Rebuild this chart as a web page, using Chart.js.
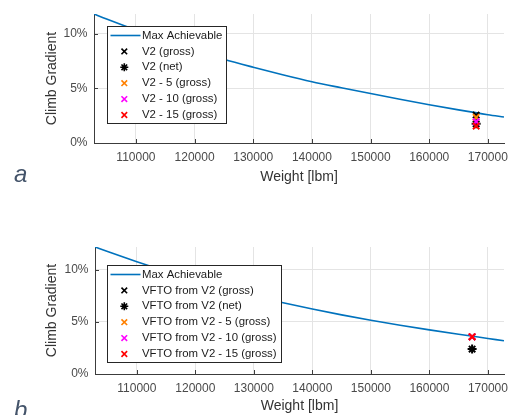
<!DOCTYPE html>
<html><head><meta charset="utf-8">
<script src="https://cdn.jsdelivr.net/npm/chart.js@4/dist/chart.umd.min.js"></script>
<style>
html,body{margin:0;padding:0;background:#fff;width:510px;height:415px;overflow:hidden;position:relative;}
.wrap{position:absolute;left:0;width:510px;}
#w1{top:0;height:200px}
#w2{top:200px;height:215px}
.lab{position:absolute;left:14px;font:italic 24px "Liberation Sans",sans-serif;line-height:24px;color:#44546a}
</style></head><body>
<div class="wrap" id="w1"><canvas id="c1" width="510" height="200"></canvas></div>
<div class="wrap" id="w2"><canvas id="c2" width="510" height="215"></canvas></div>
<div class="lab" style="top:162px">a</div>
<div class="lab" style="top:398px">b</div>
<script>
// ---- data ----
const weights = [102850,105000,110000,115000,120000,125000,130000,135000,140000,145000,150000,155000,160000,165000,170000,172750];
const maxAchievableA = [11.80,11.34,10.33,9.38,8.49,7.66,6.93,6.24,5.60,5.05,4.52,4.00,3.50,3.03,2.59,2.38];
const maxAchievableB = [12.18,11.74,10.77,9.86,9.01,8.23,7.50,6.84,6.23,5.67,5.16,4.68,4.23,3.81,3.41,3.19];
const markerWeightA = 168000;
const markerWeightB = 167300;
const labelsA = ['V2 (gross)','V2 (net)','V2 - 5 (gross)','V2 - 10 (gross)','V2 - 15 (gross)'];
const labelsB = ['VFTO from V2 (gross)','VFTO from V2 (net)','VFTO from V2 - 5 (gross)','VFTO from V2 - 10 (gross)','VFTO from V2 - 15 (gross)'];
const markerValuesA = [2.55,1.75,2.35,1.95,1.55];
const markerValuesB = [3.57,2.39,3.57,3.57,3.57];
const xTicks = [110000,120000,130000,140000,150000,160000,170000];
const yTicks = [0,5,10];

const markerStyles = [
  {color:'#000000', style:'crossRot'},
  {color:'#000000', style:'star'},
  {color:'#FF8000', style:'crossRot'},
  {color:'#FF00FF', style:'crossRot'},
  {color:'#FF0000', style:'crossRot'}
];
const FONT = '"Liberation Sans", Arial, sans-serif';

function drawMark(ctx, style, x, y, r){
  const d = r*Math.SQRT1_2;
  ctx.beginPath();
  ctx.moveTo(x-d,y-d); ctx.lineTo(x+d,y+d);
  ctx.moveTo(x-d,y+d); ctx.lineTo(x+d,y-d);
  if(style==='star'){
    ctx.moveTo(x-r,y); ctx.lineTo(x+r,y);
    ctx.moveTo(x,y-r); ctx.lineTo(x,y+r);
  }
  ctx.stroke();
}

const legendBox = {
  id:'legendBox',
  afterDatasetsDraw(chart, args, opts){
    const ctx = chart.ctx, ca = chart.chartArea;
    const x0 = Math.round(ca.left + opts.dx), y0 = Math.round(ca.top + opts.dy);
    const items = chart.data.datasets;
    ctx.save();
    ctx.font = '11.4px ' + FONT;
    let maxW = 0;
    items.forEach(d => { maxW = Math.max(maxW, ctx.measureText(d.label).width); });
    const w = Math.round(35 + maxW + 4), h = Math.round(9.5 + 15.9*(items.length-1) + 8);
    ctx.fillStyle = '#fff';
    ctx.fillRect(x0, y0, w, h);
    ctx.strokeStyle = '#262626'; ctx.lineWidth = 1;
    ctx.strokeRect(x0+0.5, y0+0.5, w, h);
    items.forEach((d,i) => {
      const y = y0 + 9.5 + i*15.9;
      if(d.showLine){
        ctx.strokeStyle = d.borderColor; ctx.lineWidth = d.borderWidth;
        ctx.beginPath(); ctx.moveTo(x0+3.5, y); ctx.lineTo(x0+33.5, y); ctx.stroke();
      } else {
        ctx.strokeStyle = d.borderColor; ctx.lineWidth = 1.6;
        drawMark(ctx, d.pointStyle, x0+17.3, y, 4);
      }
      ctx.fillStyle = '#1a1a1a'; ctx.textBaseline = 'middle'; ctx.textAlign = 'left';
      ctx.fillText(d.label, x0+35, y);
    });
    ctx.restore();
  }
};

const markerPlugin = {
  id:'markerPlugin',
  afterDatasetsDraw(chart){
    const ctx = chart.ctx, xs = chart.scales.x, ys = chart.scales.y;
    chart.data.datasets.forEach((d,i) => {
      if(d.showLine) return;
      ctx.save();
      ctx.strokeStyle = d.borderColor; ctx.lineWidth = 2;
      d.data.forEach(p => drawMark(ctx, d.pointStyle, xs.getPixelForValue(p.x), ys.getPixelForValue(p.y), 4.5));
      ctx.restore();
    });
  }
};

const axisTicks = {
  id:'axisTicks',
  afterDraw(chart){
    const ctx = chart.ctx, xs = chart.scales.x, ys = chart.scales.y, ca = chart.chartArea;
    ctx.save();
    ctx.strokeStyle = '#3c3c3c'; ctx.lineWidth = 1;
    ctx.beginPath();
    xs.ticks.forEach(t => { const px = Math.round(xs.getPixelForValue(t.value))+0.5; ctx.moveTo(px, ca.bottom); ctx.lineTo(px, ca.bottom-4); });
    ys.ticks.forEach(t => { const py = Math.round(ys.getPixelForValue(t.value))+0.5; ctx.moveTo(ca.left, py); ctx.lineTo(ca.left+4, py); });
    ctx.stroke();
    ctx.restore();
  }
};

function makeChart(id, vals, mw, mvals, labels, cfg){
  const datasets = [{
    label:'Max Achievable',
    data: weights.map((w,i)=>({x:w, y:vals[i]})),
    showLine:true, borderColor:'#0072BD', borderWidth:1.6, pointRadius:0,
    cubicInterpolationMode:'monotone', order:10
  }];
  labels.forEach((l,i)=>{
    datasets.push({
      label:l, data:[{x:mw, y:mvals[i]}], showLine:false,
      pointStyle: markerStyles[i].style, borderColor: markerStyles[i].color,
      backgroundColor: markerStyles[i].color, pointRadius:0, order: 5-i
    });
  });
  return new Chart(document.getElementById(id), {
    type:'scatter',
    data:{datasets},
    plugins:[markerPlugin, axisTicks, legendBox],
    options:{
      responsive:false, animation:false, devicePixelRatio:1,
      layout:{padding:{left:0, top:cfg.top, right:6, bottom:0}},
      plugins:{legend:{display:false}, tooltip:{enabled:false}, legendBox:{dx:cfg.ldx, dy:cfg.ldy}},
      scales:{
        x:{
          type:'linear', min:weights[0], max:weights[weights.length-1],
          afterBuildTicks: s => { s.ticks = xTicks.map(v=>({value:v})); },
          afterFit: s => { s.height = cfg.xh; s.paddingLeft = 0; s.paddingRight = 0; },
          ticks:{callback: v => String(v), font:{family:FONT, size:12}, color:'#4a4a4a', padding:7, maxRotation:0, autoSkip:false},
          grid:{color:'#e4e4e4', drawTicks:false},
          border:{color:'#3c3c3c', width:1},
          title:{display:true, text:'Weight [lbm]', font:{family:FONT, size:14, lineHeight:1.2}, color:'#333333', padding:{top:0, bottom:cfg.tpb}}
        },
        y:{
          min:0, max:vals[0],
          afterBuildTicks: s => { s.ticks = yTicks.map(v=>({value:v})); },
          afterFit: s => { s.width = cfg.left; s.paddingTop = 0; s.paddingBottom = 0; },
          ticks:{callback: v => v + '%', font:{family:FONT, size:12}, color:'#4a4a4a', padding:6.5},
          grid:{color:'#e4e4e4', drawTicks:false},
          border:{color:'#3c3c3c', width:1},
          title:{display:true, text:'Climb Gradient', font:{family:FONT, size:14, lineHeight:1.2}, color:'#333333', padding:{top:44, bottom:0}}
        }
      }
    }
  });
}

makeChart('c1', maxAchievableA, markerWeightA, markerValuesA, labelsA, {top:14, xh:57, tpb:14.5, left:94, ldx:12.7, ldy:12.4});
makeChart('c2', maxAchievableB, markerWeightB, markerValuesB, labelsB, {top:47, xh:41, tpb:0, left:95, ldx:12.3, ldy:18.3});
</script>
</body></html>
